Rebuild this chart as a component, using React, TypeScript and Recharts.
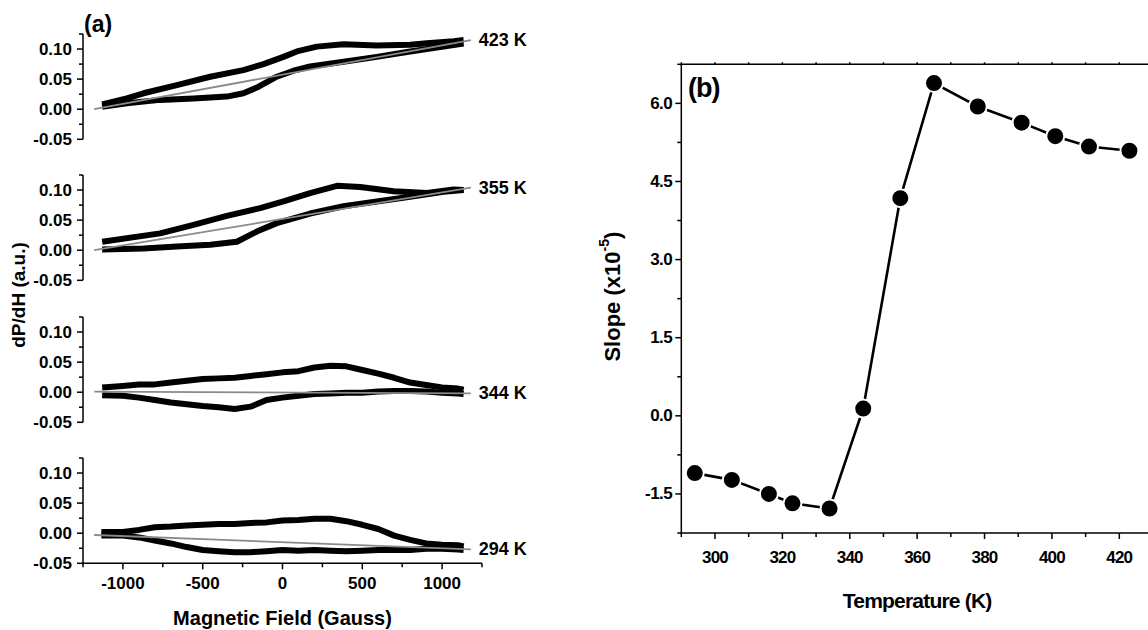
import React from 'react';
import { LineChart, Line, XAxis, YAxis, LabelList } from 'recharts';

const FONT = '"Liberation Sans", Arial, sans-serif';

// (a) field sweeps: [field (G), dP/dH (a.u.)]
const up423 = [[-1130, 0.008], [-976, 0.018], [-871, 0.0265], [-662, 0.04], [-453, 0.054], [-245, 0.065], [-119, 0.075], [6, 0.087], [90, 0.096], [215, 0.104], [382, 0.108], [591, 0.106], [800, 0.107], [905, 0.1095], [1072, 0.113], [1135, 0.115]];
const low423 = [[-1130, 0.004], [-976, 0.01], [-767, 0.0155], [-558, 0.018], [-349, 0.021], [-245, 0.0265], [-161, 0.036], [-36, 0.054], [69, 0.064], [173, 0.071], [382, 0.079], [591, 0.087], [800, 0.096], [1009, 0.104], [1135, 0.109]];
const fit423 = [[-1180, 0.0], [1180, 0.115]];

const up355 = [[-1130, 0.014], [-767, 0.028], [-558, 0.042], [-349, 0.057], [-140, 0.07], [6, 0.081], [173, 0.095], [341, 0.107], [487, 0.105], [696, 0.098], [905, 0.095], [1072, 0.101], [1135, 0.1]];
const low355 = [[-1130, 0.001], [-871, 0.003], [-662, 0.006], [-453, 0.009], [-286, 0.014], [-161, 0.031], [-36, 0.045], [173, 0.061], [382, 0.073], [591, 0.081], [800, 0.089], [1009, 0.097], [1135, 0.1]];
const fit355 = [[-1180, 0.0], [1180, 0.104]];

const up344 = [[-1130, 0.008], [-1000, 0.0105], [-900, 0.013], [-800, 0.013], [-700, 0.016], [-600, 0.019], [-500, 0.022], [-400, 0.023], [-300, 0.024], [-200, 0.027], [-100, 0.03], [0, 0.033], [100, 0.035], [200, 0.041], [300, 0.044], [400, 0.043], [500, 0.037], [600, 0.031], [700, 0.024], [800, 0.016], [900, 0.012], [1000, 0.008], [1100, 0.006], [1135, 0.004]];
const low344 = [[-1130, -0.005], [-1000, -0.006], [-900, -0.009], [-800, -0.013], [-700, -0.017], [-600, -0.02], [-500, -0.023], [-400, -0.025], [-300, -0.028], [-200, -0.024], [-100, -0.013], [0, -0.009], [100, -0.006], [200, -0.003], [300, -0.002], [400, -0.001], [500, -0.001], [600, 0.001], [700, 0.002], [800, 0.002], [900, 0.001], [1000, -0.001], [1100, -0.002], [1135, -0.003]];
const fit344 = [[-1180, 0.001], [1180, -0.002]];

const up294 = [[-1135, 0.002], [-1000, 0.002], [-900, 0.0055], [-800, 0.01], [-700, 0.011], [-600, 0.013], [-500, 0.014], [-400, 0.0155], [-300, 0.0155], [-200, 0.017], [-100, 0.018], [0, 0.021], [100, 0.022], [200, 0.024], [300, 0.024], [400, 0.02], [500, 0.014], [600, 0.007], [700, -0.004], [800, -0.011], [900, -0.017], [1000, -0.019], [1100, -0.02], [1135, -0.022]];
const low294 = [[-1135, -0.004], [-1000, -0.004], [-900, -0.007], [-800, -0.012], [-700, -0.017], [-600, -0.023], [-500, -0.028], [-400, -0.03], [-300, -0.0315], [-200, -0.0315], [-100, -0.03], [0, -0.028], [100, -0.029], [200, -0.028], [300, -0.029], [400, -0.03], [500, -0.029], [600, -0.028], [700, -0.028], [800, -0.028], [900, -0.026], [1000, -0.026], [1100, -0.027], [1135, -0.028]];
const fit294 = [[-1180, -0.003], [1180, -0.027]];

const tempLabelsA = ['423 K', '355 K', '344 K', '294 K'];

const fieldTicks = [-1250, -1000, -750, -500, -250, 0, 250, 500, 750, 1000, 1250];
const fieldLabels = [-1000, -500, 0, 500, 1000];
const dpTicks = [-0.05, -0.025, 0, 0.025, 0.05, 0.075, 0.1, 0.125];
const dpLabels = [-0.05, 0, 0.05, 0.1];

// (b) slope vs temperature
const temps = [294, 305, 316, 323, 334, 344, 355, 365, 378, 391, 401, 411, 423];
const slopes = [-1.1, -1.23, -1.5, -1.68, -1.78, 0.14, 4.18, 6.39, 5.94, 5.63, 5.37, 5.17, 5.09];
const tempTicks = [290, 300, 310, 320, 330, 340, 350, 360, 370, 380, 390, 400, 410, 420, 430];
const tempLabels = [300, 320, 340, 360, 380, 400, 420];
const slopeTicks = [-2.25, -1.5, -0.75, 0, 0.75, 1.5, 2.25, 3, 3.75, 4.5, 5.25, 6, 6.75];
const slopeLabels = [-1.5, 0, 1.5, 3, 4.5, 6];

const isIn = (list: number[], v: number) => list.some((m) => Math.abs(m - v) < 1e-9);
const toPts = (arr: number[][]) => arr.map(([h, v]) => ({ h, v }));

const DpTick = (props: any) => {
  const { x, y, payload } = props;
  const major = isIn(dpLabels, payload.value);
  return (
    <g>
      <line x1={x} x2={x - (major ? 6 : 4)} y1={y} y2={y} stroke="#000" strokeWidth={1.5} />
      {major && (
        <text x={x - 11} y={y} textAnchor="end" dominantBaseline="central" fontSize={17} fontWeight="bold" fontFamily={FONT} fill="#000">
          {payload.value.toFixed(2)}
        </text>
      )}
    </g>
  );
};

const FieldTick = (props: any) => {
  const { x, y, payload } = props;
  const major = isIn(fieldLabels, payload.value);
  return (
    <g>
      <line x1={x} x2={x} y1={y} y2={y + (major ? 6 : 4)} stroke="#000" strokeWidth={1.5} />
      {major && (
        <text x={x} y={y + 20} textAnchor="middle" dominantBaseline="central" fontSize={17} fontWeight="bold" fontFamily={FONT} fill="#000">
          {payload.value}
        </text>
      )}
    </g>
  );
};

const SlopeTick = (props: any) => {
  const { x, y, payload } = props;
  const major = isIn(slopeLabels, payload.value);
  return (
    <g>
      <line x1={x} x2={x - (major ? 6 : 4)} y1={y} y2={y} stroke="#000" strokeWidth={1.5} />
      {major && (
        <text x={x - 9} y={y} textAnchor="end" dominantBaseline="central" fontSize={17} fontWeight="bold" fontFamily={FONT} fill="#000" letterSpacing={-0.5}>
          {payload.value.toFixed(1)}
        </text>
      )}
    </g>
  );
};

const TempTick = (props: any) => {
  const { x, y, payload } = props;
  const major = isIn(tempLabels, payload.value);
  return (
    <g>
      <line x1={x} x2={x} y1={y} y2={y + (major ? 6 : 4)} stroke="#000" strokeWidth={1.5} />
      {major && (
        <text x={x} y={y + 24} textAnchor="middle" dominantBaseline="central" fontSize={17} fontWeight="bold" fontFamily={FONT} fill="#000" letterSpacing={-0.8}>
          {payload.value}
        </text>
      )}
    </g>
  );
};

const TopTick = (props: any) => {
  const { x, y } = props;
  return <line x1={x} x2={x} y1={y} y2={y - 2} stroke="#000" strokeWidth={1.5} />;
};

const panelTops = [33.5, 175, 316.5, 457.5];

function FieldPanel({ idx, upper, lower, fit }: { idx: number; upper: number[][]; lower: number[][]; fit: number[][] }) {
  const last = idx === 3;
  const name = tempLabelsA[idx];
  return (
    <div style={{ position: 'absolute', left: 0, top: panelTops[idx] - 6 }}>
      <LineChart width={560} height={last ? 177.3 : 125.3} margin={{ top: 6, right: 78, bottom: last ? 0 : 14, left: 0 }}>
        <XAxis
          type="number"
          dataKey="h"
          domain={[-1250, 1250]}
          ticks={fieldTicks}
          interval={0}
          allowDataOverflow
          hide={!last}
          height={66}
          tickSize={0}
          tickMargin={0}
          tickLine={false}
          tick={FieldTick}
          axisLine={{ stroke: '#000', strokeWidth: 1.5 }}
          label={{
            content: ({ viewBox }: any) => (
              <text x={viewBox.x + viewBox.width / 2} y={viewBox.y + 55} textAnchor="middle" dominantBaseline="central" fontSize={20} fontWeight="bold" fontFamily={FONT} fill="#000">
                Magnetic Field (Gauss)
              </text>
            ),
          }}
        />
        <YAxis
          type="number"
          domain={[-0.05, 0.125]}
          ticks={dpTicks}
          interval={0}
          allowDataOverflow
          width={83}
          tickSize={0}
          tickMargin={0}
          tickLine={false}
          tick={DpTick}
          axisLine={{ stroke: '#000', strokeWidth: 1.5 }}
        />
        <Line data={toPts(upper)} dataKey="v" stroke="#000" strokeWidth={6} strokeLinejoin="round" dot={false} isAnimationActive={false} />
        <Line data={toPts(lower)} dataKey="v" stroke="#000" strokeWidth={6} strokeLinejoin="round" dot={false} isAnimationActive={false} />
        <Line data={toPts(fit)} dataKey="v" stroke="#8a8a8a" strokeWidth={1.8} dot={false} isAnimationActive={false}>
          <LabelList
            dataKey="v"
            content={(p: any) =>
              p.index === 1 ? (
                <text x={p.x + 8} y={p.y} dominantBaseline="central" fontSize={18} fontWeight="bold" fontFamily={FONT} fill="#000">
                  {name}
                </text>
              ) : null
            }
          />
        </Line>
      </LineChart>
    </div>
  );
}

export default function App() {
  const slopeData = temps.map((t, i) => ({ t, s: slopes[i] }));
  return (
    <div style={{ position: 'absolute', left: 0, top: 0, width: 1148, height: 630, overflow: 'hidden', background: '#fff', fontFamily: FONT }}>
      <FieldPanel idx={0} upper={up423} lower={low423} fit={fit423} />
      <FieldPanel idx={1} upper={up355} lower={low355} fit={fit355} />
      <FieldPanel idx={2} upper={up344} lower={low344} fit={fit344} />
      <FieldPanel idx={3} upper={up294} lower={low294} fit={fit294} />

      <div style={{ position: 'absolute', left: 580, top: 40 }}>
        <LineChart width={573} height={573} data={slopeData} margin={{ top: 14.3, right: 0, bottom: 0, left: 0 }}>
          <XAxis
            xAxisId="top"
            orientation="top"
            type="number"
            dataKey="t"
            domain={[290, 430]}
            ticks={tempTicks}
            interval={0}
            allowDataOverflow
            height={10}
            tickSize={0}
            tickMargin={0}
            tickLine={false}
            tick={TopTick}
            axisLine={{ stroke: '#000', strokeWidth: 1.5 }}
          />
          <XAxis
            type="number"
            dataKey="t"
            domain={[290, 430]}
            ticks={tempTicks}
            interval={0}
            allowDataOverflow
            height={80}
            tickSize={0}
            tickMargin={0}
            tickLine={false}
            tick={TempTick}
            axisLine={{ stroke: '#000', strokeWidth: 1.5 }}
            label={{
              content: ({ viewBox }: any) => (
                <text x={viewBox.x + viewBox.width / 2} y={viewBox.y + 67} textAnchor="middle" dominantBaseline="central" fontSize={21} fontWeight="bold" fontFamily={FONT} fill="#000" letterSpacing={-0.8}>
                  Temperature (K)
                </text>
              ),
            }}
          />
          <YAxis
            type="number"
            domain={[-2.25, 6.75]}
            ticks={slopeTicks}
            interval={0}
            allowDataOverflow
            width={101.3}
            tickSize={0}
            tickMargin={0}
            tickLine={false}
            tick={SlopeTick}
            axisLine={{ stroke: '#000', strokeWidth: 1.5 }}
            label={{
              content: ({ viewBox }: any) => {
                const cx = viewBox.x + 32;
                const cy = viewBox.y + viewBox.height / 2 - 2;
                return (
                  <text transform={`translate(${cx},${cy}) rotate(-90)`} textAnchor="middle" dominantBaseline="central" fontSize={22} fontWeight="bold" fontFamily={FONT} fill="#000">
                    Slope (x10<tspan dy={-8} fontSize={14}>-5</tspan>
                    <tspan dy={8}>)</tspan>
                  </text>
                );
              },
            }}
          />
          <Line
            type="linear"
            dataKey="s"
            stroke="#000"
            strokeWidth={2.6}
            dot={{ r: 9, fill: '#000', stroke: '#fff', strokeWidth: 2 }}
            isAnimationActive={false}
          />
        </LineChart>
      </div>

      <svg width={1148} height={630} style={{ position: 'absolute', left: 0, top: 0, pointerEvents: 'none' }}>
        <text x={84} y={32} fontSize={23} fontWeight="bold" fontFamily={FONT} fill="#000">(a)</text>
        <text transform="translate(18,295) rotate(-90)" textAnchor="middle" dominantBaseline="central" fontSize={19} fontWeight="bold" fontFamily={FONT} fill="#000">
          dP/dH (a.u.)
        </text>
        <text x={688} y={97} fontSize={27} fontWeight="bold" fontFamily={FONT} fill="#000" letterSpacing={-1}>(b)</text>
      </svg>
    </div>
  );
}
